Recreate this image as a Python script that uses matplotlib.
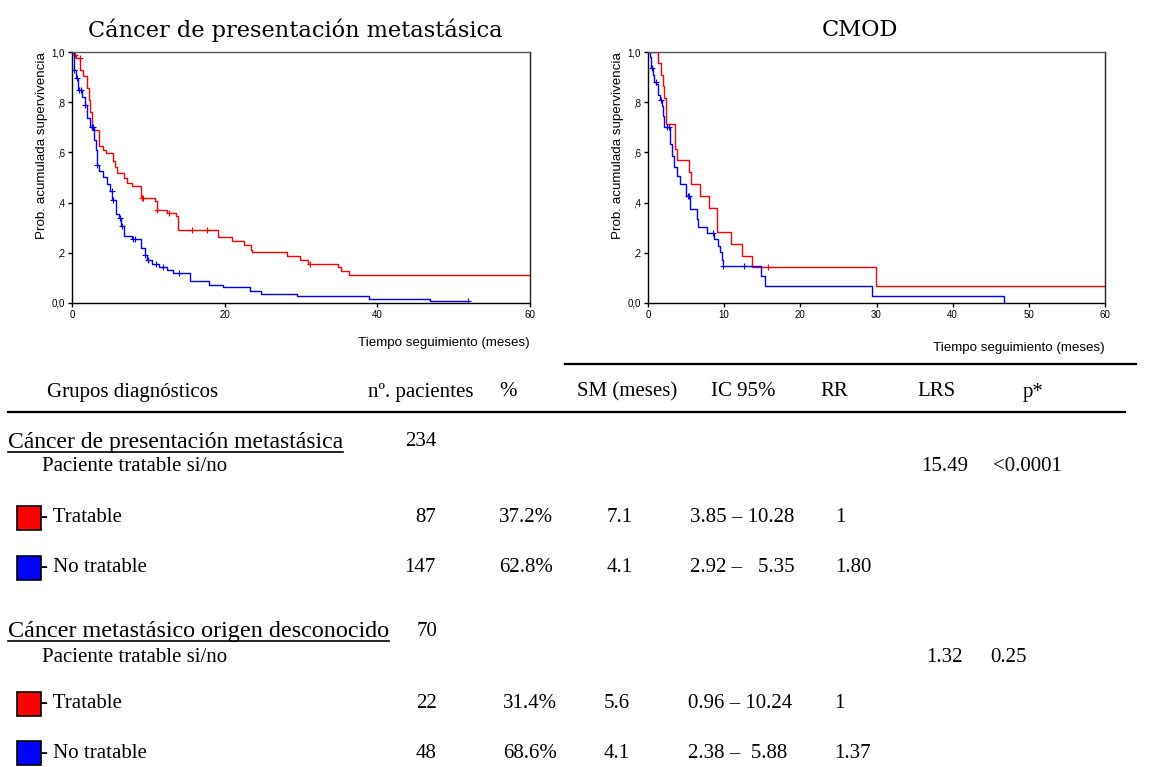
import numpy as np
import matplotlib
matplotlib.use("Agg")
import matplotlib.pyplot as plt
from matplotlib.patches import Rectangle

W, H = 1161, 767

# --- Kaplan-Meier curves (time in months, survival) ---
# Cancer de presentacion metastasica
met_tr_t = [0, 0.3, 0.5, 1.05, 1.5, 1.9, 2.2, 2.4, 2.6, 3.6, 4.0, 4.4, 5.4, 5.6, 5.9, 6.8, 7.2, 7.8,
            9.1, 10.9, 11.1, 12.4, 13.6, 13.9, 19.1, 21.0, 22.5, 23.4, 23.6, 28.2, 29.9, 30.9, 34.8,
            35.3, 36.3]
met_tr_s = [1.0, 0.99, 0.977, 0.93, 0.906, 0.857, 0.81, 0.76, 0.688, 0.627, 0.61, 0.597, 0.564, 0.54,
            0.518, 0.498, 0.478, 0.467, 0.42, 0.405, 0.372, 0.358, 0.345, 0.292, 0.263, 0.247, 0.232,
            0.212, 0.202, 0.186, 0.172, 0.157, 0.142, 0.126, 0.11]
met_tr_cens = [0.4, 1.0, 9.2, 9.3, 11.1, 12.7, 15.7, 17.7, 31.2]
met_tr_end = 60

met_no_t = [0, 0.2, 0.3, 0.5, 0.8, 1.3, 1.7, 2.0, 2.3, 2.9, 3.1, 3.3, 3.6, 4.1, 4.6, 5.0, 5.3, 5.7,
            6.2, 6.4, 6.8, 7.8, 9.0, 9.5, 9.8, 10.5, 11.4, 12.5, 13.2, 15.4, 17.9, 19.8, 23.3, 24.7,
            29.5, 38.9, 46.9]
met_no_s = [1.0, 0.963, 0.93, 0.897, 0.85, 0.82, 0.787, 0.737, 0.701, 0.65, 0.61, 0.551, 0.525, 0.502,
            0.475, 0.445, 0.412, 0.356, 0.339, 0.306, 0.266, 0.256, 0.219, 0.19, 0.173, 0.157, 0.142,
            0.13, 0.12, 0.086, 0.07, 0.063, 0.046, 0.037, 0.029, 0.017, 0.006]
met_no_cens = [0.3, 0.6, 0.9, 1.2, 1.7, 2.6, 2.7, 3.3, 5.2, 5.4, 6.3, 6.5, 8.0, 8.3, 9.6, 10.0,
               11.0, 11.9, 14.0, 51.9]
met_no_end = 51.9

# CMOD
cmod_tr_t = [0, 1.3, 1.75, 1.97, 2.15, 2.3, 3.6, 3.8, 5.4, 5.6, 6.8, 8.0, 9.0, 9.1, 10.96, 12.3,
             13.7, 29.9]
cmod_tr_s = [1.0, 0.955, 0.909, 0.864, 0.818, 0.714, 0.613, 0.568, 0.52, 0.473, 0.426, 0.378, 0.33,
             0.284, 0.237, 0.189, 0.142, 0.066]
cmod_tr_cens = [15.7]
cmod_tr_end = 60

cmod_no_t = [0, 0.2, 0.33, 0.64, 0.8, 1.1, 1.3, 1.6, 1.85, 1.97, 2.1, 2.94, 3.17, 3.39, 3.82, 4.17,
             4.96, 5.5, 6.4, 6.6, 7.8, 8.7, 9.13, 9.4, 9.65, 9.85, 14.8, 15.35, 29.4, 46.8]
cmod_no_s = [1.0, 0.979, 0.937, 0.91, 0.88, 0.873, 0.83, 0.81, 0.784, 0.745, 0.703, 0.633, 0.586,
             0.54, 0.507, 0.474, 0.428, 0.375, 0.335, 0.304, 0.278, 0.255, 0.229, 0.202, 0.172, 0.147,
             0.106, 0.067, 0.029, 0.0]
cmod_no_cens = [0.5, 1.0, 1.7, 2.5, 2.7, 5.2, 5.4, 8.5, 9.9, 12.6]
cmod_no_end = 46.8

# --- table ---
header = ["Grupos diagnósticos", "nº. pacientes", "%", "SM (meses)", "IC 95%", "RR", "LRS", "p*"]
groups = ["Cáncer de presentación metastásica", "Cáncer metastásico origen desconocido"]
n_total = ["234", "70"]
lrs = ["15.49", "1.32"]
pvals = ["<0.0001", "0.25"]
sub_labels = ["- Tratable", "- No tratable"]
n_sub = [["87", "147"], ["22", "48"]]
pct = [["37.2%", "62.8%"], ["31.4%", "68.6%"]]
sm = [["7.1", "4.1"], ["5.6", "4.1"]]
ic = [["3.85 – 10.28", "2.92 –   5.35"], ["0.96 – 10.24", "2.38 –  5.88"]]
rr = [["1", "1.80"], ["1", "1.37"]]

RED = "#ff0000"
BLUE = "#0000ff"


def fx(x):
    return x / W


def fy(y):
    return 1 - y / H


def km(ax, t, s, cens, end, color):
    t = list(t) + [end]
    s = list(s) + [s[-1]]
    ax.step(t, s, where="post", color=color, lw=1.0)
    t_arr = np.array(t)
    idx = np.searchsorted(t_arr, cens, side="right") - 1
    ax.plot(cens, np.array(s)[idx], "+", color=color, ms=4, mew=0.8)


def style_ax(ax, xticks, label_pad):
    ax.set_xlim(0, 60)
    ax.set_ylim(0, 1)
    ax.set_yticks([0, 0.2, 0.4, 0.6, 0.8, 1.0])
    ax.set_yticklabels(["0,0", ",2", ",4", ",6", ",8", "1,0"])
    ax.set_xticks(xticks)
    ax.tick_params(direction="out", length=3, width=1, labelsize=7, pad=2)
    for sp in ax.spines.values():
        sp.set_linewidth(1.0)
    ax.spines["top"].set_color("#555555")
    ax.spines["right"].set_color("#222222")
    ax.set_ylabel("Prob. acumulada supervivencia", fontsize=9.6, loc="top", labelpad=3)
    ax.set_xlabel("Tiempo seguimiento (meses)", fontsize=9.6, loc="right", labelpad=label_pad)


plt.rcParams["font.family"] = ["Liberation Sans", "DejaVu Sans"]
fig = plt.figure(figsize=(W / 100, H / 100), dpi=100)

ax1 = fig.add_axes([fx(72), fy(303), (530 - 72) / W, (303 - 52) / H])
km(ax1, met_tr_t, met_tr_s, met_tr_cens, met_tr_end, RED)
km(ax1, met_no_t, met_no_s, met_no_cens, met_no_end, BLUE)
style_ax(ax1, [0, 20, 40, 60], 12)

ax2 = fig.add_axes([fx(648), fy(303), (1105 - 648) / W, (303 - 52) / H])
km(ax2, cmod_tr_t, cmod_tr_s, cmod_tr_cens, cmod_tr_end, RED)
km(ax2, cmod_no_t, cmod_no_s, cmod_no_cens, cmod_no_end, BLUE)
style_ax(ax2, [0, 10, 20, 30, 40, 50, 60], 16)

fig.text(fx(295), fy(30), "Cáncer de presentación metastásica", family="DejaVu Serif",
         fontsize=16.2, ha="center", va="center")
fig.text(fx(860), fy(30), "CMOD", family="DejaVu Serif", fontsize=16.2, ha="center", va="center")

# table rules
fig.add_artist(plt.Line2D([fx(565), fx(1136)], [fy(364), fy(364)], color="black", lw=1.6))
fig.add_artist(plt.Line2D([fx(8), fx(1125)], [fy(412), fy(412)], color="black", lw=1.6))

serif = dict(family=["Liberation Serif", "DejaVu Serif"], fontsize=15, va="center")
hx = [47, 368, 508, 577, 711, 820, 917, 1033]
hha = ["left", "left", "center", "left", "left", "left", "left", "center"]
for x, h, a in zip(hx, header, hha):
    fig.text(fx(x), fy(392), h, ha=a, **serif)

sec_y = [[442, 467, 518, 568], [631, 657, 704, 753]]
group_size = [17, 17.4]
n_right = [436, 437]
pct_right = [553, 557]
sm_center = [620, 617]
ic_left = [690, 688]
rr_left = [835, 834]
lrs_left = [921, 926]
p_left = [993, 990]
for g in range(2):
    yg, yp, y1, y2 = sec_y[g]
    t = fig.text(fx(8), fy(yg + 6), groups[g], ha="left", fontsize=group_size[g],
                 family=["Liberation Serif", "DejaVu Serif"], va="baseline")
    # underline drawn from the rendered text width
    fig.canvas.draw()
    bb = t.get_window_extent()
    fig.add_artist(plt.Line2D([bb.x0 / W, bb.x1 / W], [fy(yg + 10), fy(yg + 10)], color="black", lw=1.2))
    fig.text(fx(n_right[g]), fy(yg), n_total[g], ha="right", **serif)
    fig.text(fx(42), fy(yp), "Paciente tratable si/no", ha="left", **serif)
    fig.text(fx(lrs_left[g]), fy(yp), lrs[g], ha="left", **serif)
    fig.text(fx(p_left[g]), fy(yp), pvals[g], ha="left", **serif)
    for k, yy in enumerate([y1, y2]):
        col = RED if k == 0 else BLUE
        fig.add_artist(Rectangle((fx(17), fy(yy + 12)), 24 / W, 24 / H, facecolor=col,
                                 edgecolor="black", lw=1.2, transform=fig.transFigure))
        fig.text(fx(41), fy(yy), sub_labels[k], ha="left", **serif)
        fig.text(fx(n_right[g]), fy(yy), n_sub[g][k], ha="right", **serif)
        fig.text(fx(pct_right[g]), fy(yy), pct[g][k], ha="right", **serif)
        fig.text(fx(sm_center[g]), fy(yy), sm[g][k], ha="center", **serif)
        fig.text(fx(ic_left[g]), fy(yy), ic[g][k], ha="left", **serif)
        fig.text(fx(rr_left[g]), fy(yy), rr[g][k], ha="left", **serif)

fig.savefig("out.png", dpi=100)
